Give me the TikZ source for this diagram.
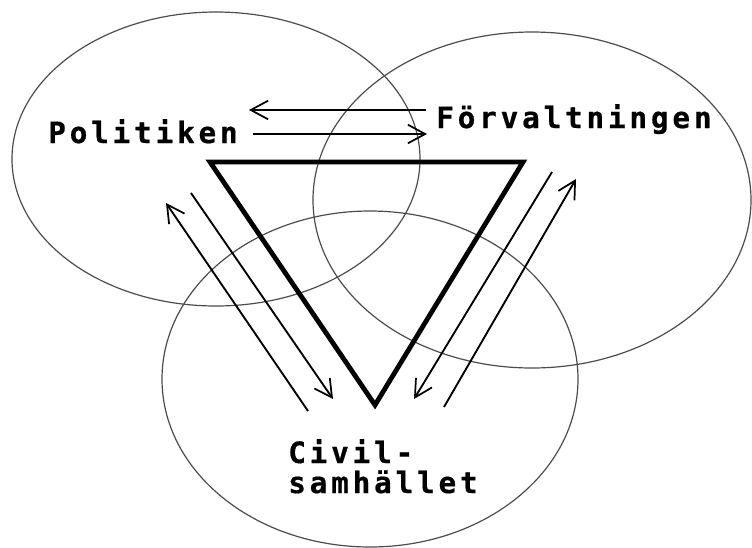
\documentclass[tikz,border=0pt]{standalone}
\usepackage{fontspec}
\usetikzlibrary{arrows.meta}
\newfontfamily\lblfont[LetterSpace=13,FakeBold=0.6]{DejaVu Sans Mono Bold}
\tikzset{
  circ/.style={draw=black!70, line width=0.9pt},
  tri/.style={draw=black, line width=3.6pt, line join=miter},
  flow/.style={draw=black, line width=1.4pt, -{Straight Barb[length=13pt,width=14pt,line width=1.3pt]}},
  lbl/.style={font=\lblfont\fontsize{22pt}{22.5pt}\selectfont, inner sep=0pt, anchor=base west, align=left}
}
\begin{document}
\begin{tikzpicture}[x=0.75pt, y=-0.75pt]
\useasboundingbox (0,0) rectangle (752,547);
% circles
\draw[circ] (216,159) ellipse [x radius=153pt, y radius=110.25pt];
\draw[circ] (532,200) ellipse [x radius=164.25pt, y radius=126pt];
\draw[circ] (370,379) ellipse [x radius=156pt, y radius=126pt];
% triangle
\coordinate (t1) at (210,162);
\coordinate (t2) at (523,162);
\coordinate (t3) at (375,405);
\draw[tri] (t1) -- (t2) -- (t3) -- cycle;
% labels
\node[lbl] (pol) at (48,143) {Politiken};
\node[lbl] (forv) at (436,128) {Förvaltningen};
\node[lbl] (civ) at (288,493) {Civil-\\samhället};
% arrows top
\coordinate (a1s) at (426,110); \coordinate (a1e) at (249,110);
\coordinate (a2s) at (253,134); \coordinate (a2e) at (427,134);
\draw[flow] (a1s) -- (a1e);
\draw[flow] (a2s) -- (a2e);
% arrows left
\coordinate (b1s) at (308,411); \coordinate (b1e) at (166,203);
\coordinate (b2s) at (191,193); \coordinate (b2e) at (333,399);
\draw[flow] (b1s) -- (b1e);
\draw[flow] (b2s) -- (b2e);
% arrows right
\coordinate (c1s) at (552,172); \coordinate (c1e) at (414,399);
\coordinate (c2s) at (444,407); \coordinate (c2e) at (576,179);
\draw[flow] (c1s) -- (c1e);
\draw[flow] (c2s) -- (c2e);
\end{tikzpicture}
\end{document}
